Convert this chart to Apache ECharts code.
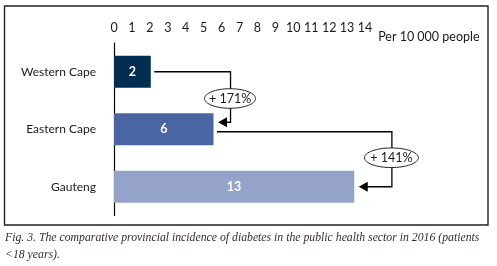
<!DOCTYPE html>
<html>
<head>
<meta charset="utf-8">
<script src="https://cdn.jsdelivr.net/npm/echarts@6/dist/echarts.min.js"></script>
<style>
  html, body { margin: 0; padding: 0; background: #fff; }
  #chart { width: 497px; height: 266px; }
</style>
</head>
<body>
<div id="chart"></div>
<script>
// data
const provinces = ['Western Cape', 'Eastern Cape', 'Gauteng']
const incidence = [2.05, 5.55, 13.4]
const barLabels = ['2', '6', '13']
const changes = ['+ 171%', '+ 141%']
const captionLines = [
  'Fig. 3. The comparative provincial incidence of diabetes in the public health sector in 2016 (patients',
  '<18 years).',
]

const barColors = ['#022c50', '#4a66a2', '#95a3ca']
const ink = '#1a1a1a'
const labelFont = 'Lato, "Open Sans", sans-serif'

const chart = echarts.init(document.getElementById('chart'), null, { renderer: 'canvas' })

chart.setOption({
  animation: false,
  grid: { left: 114, top: 43, width: 251, height: 172.5 },
  xAxis: {
    type: 'value',
    position: 'top',
    min: 0,
    max: 14,
    interval: 1,
    name: 'Per 10 000 people',
    nameLocation: 'end',
    nameGap: 10,
    nameTextStyle: { color: ink, fontSize: 12.5, fontFamily: labelFont, verticalAlign: 'bottom' },
    axisLine: { lineStyle: { color: '#000', width: 1 } },
    axisTick: { length: 7, lineStyle: { color: '#000' } },
    axisLabel: { color: ink, fontSize: 12.5, fontFamily: labelFont, margin: 9 },
    splitLine: { show: false },
  },
  yAxis: {
    type: 'category',
    inverse: true,
    data: provinces,
    axisLine: { lineStyle: { color: '#000', width: 1.2 } },
    axisTick: { show: false },
    axisLabel: { color: ink, fontSize: 12, fontFamily: labelFont, margin: 18 },
  },
  series: [
    {
      type: 'bar',
      barWidth: 32,
      data: incidence.map((v, i) => ({ value: v, itemStyle: { color: barColors[i] } })),
      label: {
        show: true,
        position: 'inside',
        formatter: (p) => barLabels[p.dataIndex],
        color: '#fff',
        fontWeight: 'bold',
        fontSize: 12.5,
        fontFamily: labelFont,
      },
    },
  ],
})

// connectors with the percentage change between provinces
function annotations() {
  const px = (v, i) => chart.convertToPixel({ gridIndex: 0 }, [v, i])
  const elbows = [6.5, 15.5]
  const els = []
  const line = { stroke: '#000', lineWidth: 1.3 }

  for (let k = 0; k < changes.length; k++) {
    const from = px(incidence[k], k)
    const to = px(incidence[k + 1], k + 1)
    const ex = px(elbows[k], k)[0]
    const y0 = k === 0 ? from[1] : from[1] + 2.5
    const y1 = k === 0 ? to[1] - 7 : to[1]
    const tipX = to[0] + 4.5
    els.push({
      type: 'polyline',
      shape: { points: [[from[0] + 3.5, y0], [ex, y0], [ex, y1], [tipX + 8, y1]] },
      style: { ...line, fill: null },
    })
    els.push({
      type: 'polygon',
      shape: { points: [[tipX, y1], [tipX + 9, y1 - 5], [tipX + 9, y1 + 5]] },
      style: { fill: '#000' },
    })
    const cy = (y0 + y1) / 2 + (k === 0 ? 1.5 : -1.5)
    els.push({
      type: 'ellipse',
      shape: { cx: ex - 0.5, cy, rx: k === 0 ? 25.5 : 27, ry: 9.8 },
      style: { fill: '#fff', stroke: '#222', lineWidth: 1 },
      z: 10,
    })
    els.push({
      type: 'text',
      x: ex - 0.5,
      y: cy,
      z: 11,
      style: {
        text: changes[k],
        fill: ink,
        fontSize: 12.5,
        fontFamily: labelFont,
        align: 'center',
        verticalAlign: 'middle',
      },
    })
  }

  // frame and caption
  els.push({
    type: 'rect',
    shape: { x: 4.5, y: 6, width: 483.5, height: 219 },
    style: { fill: null, stroke: '#222', lineWidth: 1.4 },
  })
  captionLines.forEach((t, i) => {
    els.push({
      type: 'text',
      x: 5,
      y: 238 + i * 16.5,
      style: {
        text: t,
        fill: '#3a2a3a',
        fontSize: 11.75,
        fontStyle: 'italic',
        fontFamily: '"Liberation Serif", "DejaVu Serif", serif',
        verticalAlign: 'middle',
      },
    })
  })

  chart.setOption({ graphic: { elements: els } })
}

annotations()
</script>
</body>
</html>
